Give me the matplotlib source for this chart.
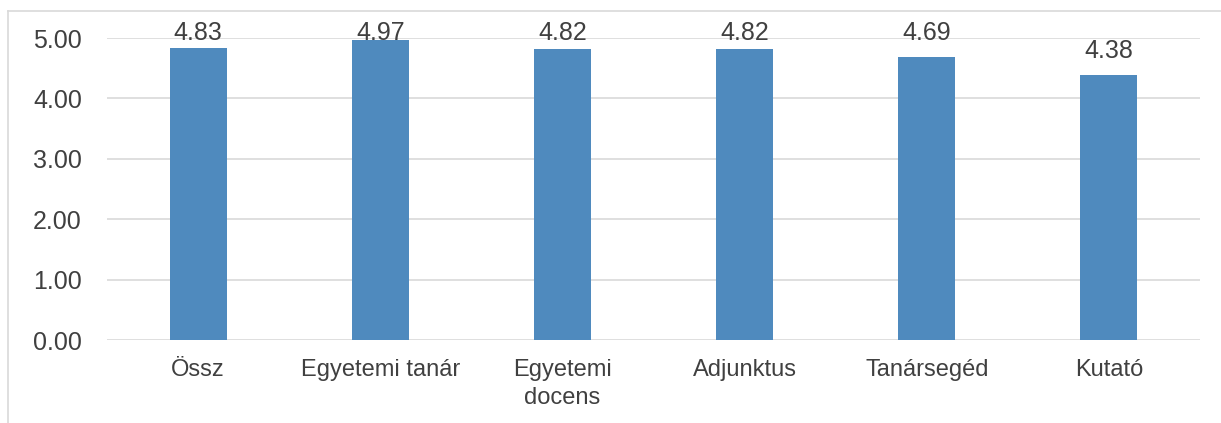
import matplotlib.pyplot as plt
from matplotlib.lines import Line2D
import numpy as np

categories = ['Össz', 'Egyetemi tanár', 'Egyetemi\ndocens', 'Adjunktus', 'Tanársegéd', 'Kutató']
values = [4.83, 4.97, 4.82, 4.82, 4.69, 4.38]
y_ticks = [0, 1, 2, 3, 4, 5]

plt.rcParams['font.family'] = ['Liberation Sans', 'DejaVu Sans']
text_color = '#404040'

fig = plt.figure(figsize=(12.21, 4.23), dpi=100)
ax = fig.add_axes([107 / 1221, 1 - 340 / 423, 1093 / 1221, 302 / 423])

x = np.arange(len(categories))
bars = ax.bar(x, values, width=0.313, color='#4F8ABE', zorder=3)

# value labels: above the bar, but kept from running off the top of the plot
for b, v in zip(bars, values):
    ax.text(b.get_x() + b.get_width() / 2, min(v + 0.29, 4.97), f'{v:.2f}',
            ha='center', va='baseline', fontsize=18, color=text_color, clip_on=False, zorder=4)

ax.set_xlim(-0.5, len(categories) - 0.5)
ax.set_ylim(0, 5)
ax.set_yticks(y_ticks)
ax.set_yticklabels([f'{t:.2f}' for t in y_ticks])
ax.set_xticks(x)
ax.set_xticklabels(categories, linespacing=1.35)
ax.tick_params(axis='y', length=0, pad=18, labelsize=18, labelcolor=text_color)
ax.tick_params(axis='x', length=0, pad=13.5, labelsize=17, labelcolor=text_color)

ax.grid(axis='y', color='#D9D9D9', linewidth=1.2, zorder=0)
for s in ax.spines.values():
    s.set_visible(False)

# outer chart border (left and top)
fig.add_artist(Line2D([8 / 1221, 8 / 1221], [0, 1 - 11 / 423], color='#D9D9D9', linewidth=1.2))
fig.add_artist(Line2D([8 / 1221, 1], [1 - 11 / 423, 1 - 11 / 423], color='#D9D9D9', linewidth=1.2))

fig.savefig('out.png', dpi=100)
